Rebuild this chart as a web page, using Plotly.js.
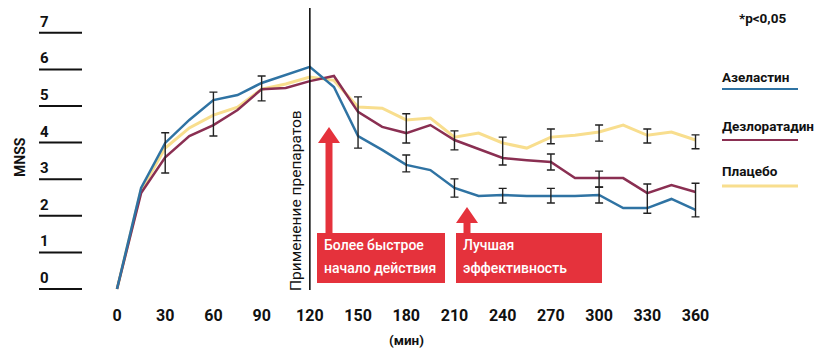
<!DOCTYPE html>
<html>
<head>
<meta charset="utf-8">
<script src="https://cdn.plot.ly/plotly-3.0.1.min.js"></script>
<style>
  html, body { margin: 0; padding: 0; background: #fff; }
  #chart { width: 814px; height: 349px; }
</style>
</head>
<body>
<div id="chart"></div>
<script>
// Time after provocation, minutes (15-minute steps)
const minutes = [0, 15, 30, 45, 60, 75, 90, 105, 120, 135, 150, 165, 180,
                 195, 210, 225, 240, 255, 270, 285, 300, 315, 330, 345, 360];

// MNSS scores per group
const azelastine = [0, 2.76, 3.99, 4.62, 5.16, 5.30, 5.63, 5.85, 6.07, 5.52, 4.18, 3.80, 3.39,
                    3.25, 2.76, 2.54, 2.57, 2.54, 2.53, 2.54, 2.57, 2.21, 2.21, 2.46, 2.16];
const desloratadine = [0, 2.62, 3.60, 4.18, 4.48, 4.89, 5.46, 5.49, 5.68, 5.82, 4.84, 4.43, 4.26,
                       4.48, 4.07, 3.83, 3.58, 3.52, 3.47, 3.03, 3.03, 3.03, 2.62, 2.84, 2.65];
const placebo = [0, 2.70, 3.85, 4.40, 4.75, 4.97, 5.46, 5.60, 5.79, 5.70, 4.97, 4.94, 4.62,
                 4.67, 4.15, 4.26, 3.99, 3.85, 4.15, 4.20, 4.29, 4.48, 4.20, 4.29, 4.07];

// Error bars: time, centre, half-range
const errMinutes = [30, 60, 90, 150, 180, 180, 210, 210, 240, 240, 270, 270, 270,
                    300, 300, 300, 330, 330, 360, 360];
const errCentre = [3.72, 4.78, 5.48, 4.55, 4.39, 3.43, 4.06, 2.76, 3.77, 2.55, 4.17, 3.47, 2.55,
                   4.26, 3.00, 2.57, 4.18, 2.47, 4.02, 2.43];
const errHalf = [0.55, 0.60, 0.34, 0.70, 0.40, 0.23, 0.26, 0.25, 0.38, 0.20, 0.20, 0.22, 0.20,
                 0.22, 0.22, 0.22, 0.19, 0.40, 0.19, 0.46];

const xTicks = [0, 30, 60, 90, 120, 150, 180, 210, 240, 270, 300, 330, 360];
const yTicks = [0, 1, 2, 3, 4, 5, 6, 7];

const seriesNames = ['Азеластин', 'Дезлоратадин', 'Плацебо'];
const doseTime = 120;

// Layout geometry (pixels)
const W = 814, H = 349, plotH = 300;
const px = x => x / W;                  // page x -> paper x
const py = y => (plotH - y) / plotH;    // page y -> paper y

const BLUE = '#2f73a3', PURPLE = '#8a2f52', YELLOW = '#f8de8e', RED = '#e5323c';
const FONT = 'Roboto, "Open Sans", sans-serif';

const traces = [
  { x: minutes, y: placebo, mode: 'lines', line: { color: YELLOW, width: 3 }, hoverinfo: 'skip' },
  { x: minutes, y: desloratadine, mode: 'lines', line: { color: PURPLE, width: 2.5 }, hoverinfo: 'skip' },
  { x: minutes, y: azelastine, mode: 'lines', line: { color: BLUE, width: 2.5 }, hoverinfo: 'skip' },
  {
    x: errMinutes, y: errCentre, mode: 'markers', marker: { size: 0.1, opacity: 0 },
    error_y: { type: 'data', array: errHalf, visible: true, color: '#222', thickness: 1.4, width: 4 },
    hoverinfo: 'skip'
  }
];

const shapes = [];
const annotations = [];

function label(x, y, text, size, extra) {
  annotations.push(Object.assign({
    xref: 'paper', yref: 'paper', x: px(x), y: py(y), xanchor: 'center', yanchor: 'middle',
    text: text, showarrow: false, font: { family: FONT, size: size, color: '#111' }
  }, extra || {}));
}

// Left scale: short rules with the value above each
yTicks.forEach(v => {
  shapes.push({ type: 'line', xref: 'paper', yref: 'y', x0: px(39), x1: px(82), y0: v, y1: v,
                line: { color: '#111', width: 2 } });
  annotations.push({ xref: 'paper', yref: 'y', x: px(38), y: v, yshift: 11, xanchor: 'left',
                     yanchor: 'middle', text: '<b>' + v + '</b>', showarrow: false,
                     font: { family: FONT, size: 15, color: '#111' } });
});

label(20, 157, '<b>MNSS</b>', 14, { textangle: -90 });

// Dosing marker
shapes.push({ type: 'line', xref: 'x', yref: 'paper', x0: doseTime, x1: doseTime, y0: py(290), y1: py(8),
              line: { color: '#111', width: 1.6 } });
label(296, 201, 'Применение препаратов', 15.5, { textangle: -90 });

// Red callouts with arrows
function callout(left, right, top, bottom, arrowX, tipY, lines) {
  shapes.push({ type: 'rect', xref: 'paper', yref: 'paper', x0: px(left), x1: px(right),
                y0: py(bottom), y1: py(top), fillcolor: RED, line: { width: 0 } });
  shapes.push({ type: 'rect', xref: 'paper', yref: 'paper', x0: px(arrowX - 3.5), x1: px(arrowX + 3.5),
                y0: py(top), y1: py(tipY + 14), fillcolor: RED, line: { width: 0 } });
  shapes.push({ type: 'path', xref: 'paper', yref: 'paper', fillcolor: RED, line: { width: 0 },
                path: `M ${px(arrowX - 11)} ${py(tipY + 16)} L ${px(arrowX)} ${py(tipY)} L ${px(arrowX + 11)} ${py(tipY + 16)} Z` });
  lines.forEach((t, i) => {
    label(left + 5, top + 12 + i * 23, t, 14, { xanchor: 'left',
          font: { family: FONT, size: 14, color: '#fff', weight: 500 } });
  });
}
callout(317, 445, 233, 283, 329, 127, ['Более быстрое', 'начало действия']);
callout(456, 602, 233, 283, 467, 207, ['Лучшая', 'эффективность']);

// Legend
const legendRows = [[seriesNames[0], BLUE, 77, 89], [seriesNames[1], PURPLE, 126, 140], [seriesNames[2], YELLOW, 171, 186]];
legendRows.forEach(([name, color, ty, ly]) => {
  label(720, ty, '<b>' + name + '</b>', 13.5, { xanchor: 'left' });
  shapes.push({ type: 'line', xref: 'paper', yref: 'paper', x0: px(722), x1: px(798), y0: py(ly), y1: py(ly),
                line: { color: color, width: color === YELLOW ? 3 : 2 } });
});

label(762, 18, '<b>*p<0,05</b>', 13.5);

annotations.push({ xref: 'x', yref: 'paper', x: 180, y: py(340), xanchor: 'center', yanchor: 'middle',
                   text: '<b>(мин)</b>', showarrow: false, font: { family: FONT, size: 13.5, color: '#111' } });

const layout = {
  width: W, height: H,
  margin: { l: 0, r: 0, t: 0, b: H - plotH, pad: 0 },
  paper_bgcolor: '#fff', plot_bgcolor: '#fff',
  showlegend: false,
  xaxis: {
    range: [-117 / 1.607, 697 / 1.607], tickvals: xTicks, ticktext: xTicks.map(String),
    showgrid: false, zeroline: false, showline: false, ticks: '', ticklabelstandoff: 4,
    tickfont: { family: FONT, size: 16, color: '#111', weight: 'bold' }, fixedrange: true
  },
  yaxis: {
    range: [(289 - plotH) / 36.6, 289 / 36.6], visible: false, fixedrange: true
  },
  shapes: shapes,
  annotations: annotations
};

Plotly.newPlot('chart', traces, layout, { displayModeBar: false, staticPlot: true });
</script>
</body>
</html>
